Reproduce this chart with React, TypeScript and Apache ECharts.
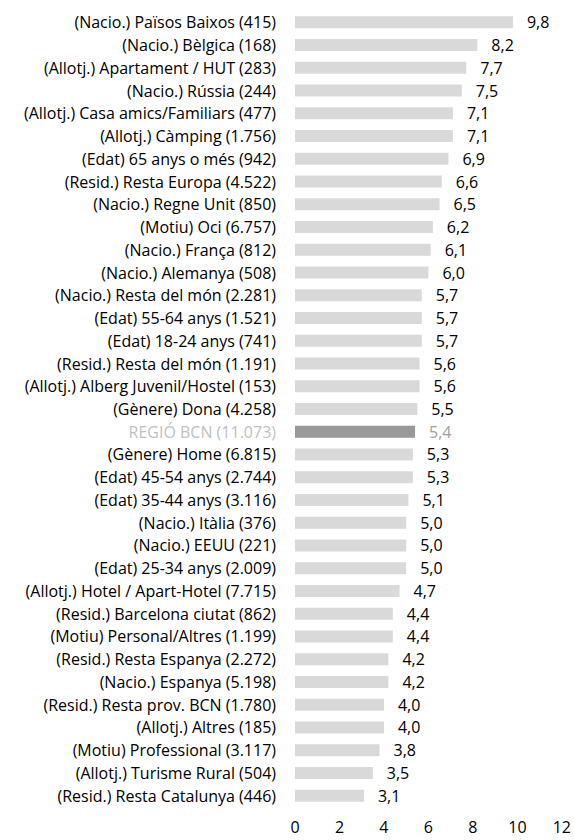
import React, { useEffect, useRef } from "react";
import * as echarts from "echarts";

const categories: string[] = [
  "(Nacio.) Països Baixos (415)",
  "(Nacio.) Bèlgica (168)",
  "(Allotj.) Apartament / HUT (283)",
  "(Nacio.) Rússia (244)",
  "(Allotj.) Casa amics/Familiars (477)",
  "(Allotj.) Càmping (1.756)",
  "(Edat) 65 anys o més (942)",
  "(Resid.) Resta Europa (4.522)",
  "(Nacio.) Regne Unit (850)",
  "(Motiu) Oci (6.757)",
  "(Nacio.) França (812)",
  "(Nacio.) Alemanya (508)",
  "(Nacio.) Resta del món (2.281)",
  "(Edat) 55-64 anys (1.521)",
  "(Edat) 18-24 anys (741)",
  "(Resid.) Resta del món (1.191)",
  "(Allotj.) Alberg Juvenil/Hostel (153)",
  "(Gènere) Dona (4.258)",
  "REGIÓ BCN (11.073)",
  "(Gènere) Home (6.815)",
  "(Edat) 45-54 anys (2.744)",
  "(Edat) 35-44 anys (3.116)",
  "(Nacio.) Itàlia (376)",
  "(Nacio.) EEUU (221)",
  "(Edat) 25-34 anys (2.009)",
  "(Allotj.) Hotel / Apart-Hotel (7.715)",
  "(Resid.) Barcelona ciutat (862)",
  "(Motiu) Personal/Altres (1.199)",
  "(Resid.) Resta Espanya (2.272)",
  "(Nacio.) Espanya (5.198)",
  "(Resid.) Resta prov. BCN (1.780)",
  "(Allotj.) Altres (185)",
  "(Motiu) Professional (3.117)",
  "(Allotj.) Turisme Rural (504)",
  "(Resid.) Resta Catalunya (446)",
];

const values: number[] = [
  9.8, 8.2, 7.7, 7.5, 7.1, 7.1, 6.9, 6.6, 6.5, 6.2, 6.1, 6.0, 5.7, 5.7, 5.7,
  5.6, 5.6, 5.5, 5.4, 5.3, 5.3, 5.1, 5.0, 5.0, 5.0, 4.7, 4.4, 4.4, 4.2, 4.2,
  4.0, 4.0, 3.8, 3.5, 3.1,
];

const highlight = "REGIÓ BCN (11.073)";

const FONT = "Open Sans";
const FS = 16;

export default function App() {
  const ref = useRef<HTMLDivElement>(null);
  useEffect(() => {
    if (!ref.current) return;
    const chart = echarts.init(ref.current, null, { renderer: "svg" });
    chart.setOption({
      animation: false,
      textStyle: { fontFamily: FONT },
      grid: { left: 295, right: 11, top: 11, bottom: 33, containLabel: false },
      xAxis: {
        type: "value",
        min: 0,
        max: 12,
        interval: 2,
        splitLine: { show: false },
        axisLine: { show: false },
        axisTick: { show: false },
        axisLabel: { color: "#000", fontSize: FS, fontFamily: FONT, margin: 12 },
      },
      yAxis: {
        type: "category",
        inverse: true,
        data: categories,
        axisLine: { show: false },
        axisTick: { show: false },
        axisLabel: {
          fontSize: FS,
          fontFamily: FONT,
          margin: 19,
          color: (v: string) => (v === highlight ? "#bfbfbf" : "#000"),
        },
      },
      series: [
        {
          type: "bar",
          barWidth: 12,
          data: values.map((v, i) => ({
            value: v,
            itemStyle: { color: categories[i] === highlight ? "#999999" : "#d9d9d9" },
            label: categories[i] === highlight ? { color: "#a0a0a0" } : undefined,
          })),
          label: {
            show: true,
            position: "right",
            distance: 14,
            fontSize: FS,
            fontFamily: FONT,
            color: "#000",
            formatter: (p: any) => p.value.toFixed(1).replace(".", ","),
          },
        },
      ],
    });
    return () => chart.dispose();
  }, []);
  return (
    <div
      ref={ref}
      style={{ position: "absolute", left: 0, top: 0, width: 574, height: 840 }}
    />
  );
}
